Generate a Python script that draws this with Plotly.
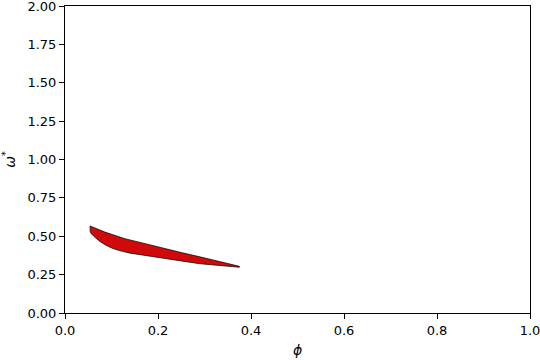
import plotly.graph_objects as go

# upper boundary (left -> right)
upper_phi = [0.054, 0.086, 0.129, 0.172, 0.212, 0.250, 0.290, 0.330, 0.375]
upper_omega = [0.567, 0.527, 0.484, 0.451, 0.421, 0.394, 0.366, 0.338, 0.304]
# lower boundary (left -> right)
lower_phi = [0.054, 0.056, 0.060, 0.065, 0.075, 0.086, 0.100, 0.115, 0.140, 0.172, 0.215, 0.250, 0.290, 0.330, 0.375]
lower_omega = [0.532, 0.518, 0.505, 0.492, 0.466, 0.445, 0.424, 0.408, 0.390, 0.374, 0.356, 0.339, 0.321, 0.308, 0.298]

x_ticks = [0, 0.2, 0.4, 0.6, 0.8, 1.0]
y_ticks = [0, 0.25, 0.5, 0.75, 1.0, 1.25, 1.5, 1.75, 2.0]

xs = upper_phi + lower_phi[::-1] + [upper_phi[0]]
ys = upper_omega + lower_omega[::-1] + [upper_omega[0]]

fig = go.Figure()
fig.add_trace(go.Scatter(x=xs, y=ys, mode="lines", fill="toself",
                         fillcolor="#d00a0a", line=dict(color="black", width=0.7),
                         showlegend=False, hoverinfo="skip"))

axis_common = dict(showgrid=False, zeroline=False, showline=True, linecolor="black",
                   linewidth=1, mirror=True, ticks="outside", ticklen=5, tickwidth=1,
                   tickcolor="black", ticklabeloverflow="allow", automargin=False,
                   tickfont=dict(family="DejaVu Sans", size=13, color="black"))
fig.update_xaxes(range=[0, 1], tickvals=x_ticks, tickformat=".1f",
                 title=dict(text="<i>ϕ</i>", font=dict(family="DejaVu Sans", size=14, color="black"), standoff=8),
                 **axis_common)
fig.update_yaxes(range=[0, 2], tickvals=y_ticks, tickformat=".2f",
                 title=dict(text="<i>ω</i><sup>*</sup>", font=dict(family="DejaVu Sans", size=14, color="black"), standoff=8),
                 **axis_common)
fig.update_layout(width=540, height=360, margin=dict(l=65, r=10, t=6, b=47),
                  plot_bgcolor="white", paper_bgcolor="white")
fig.write_html("out.html", config={"displayModeBar": False},
               post_script="document.body.style.margin='0';document.body.style.overflow='hidden';")
